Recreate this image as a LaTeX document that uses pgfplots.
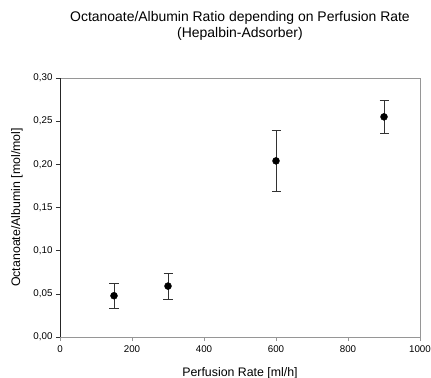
\documentclass[border=0pt]{standalone}
\usepackage{fontspec}
\setmainfont{Liberation Sans}
\usepackage{pgfplots}
\pgfplotsset{compat=1.18}
\definecolor{boxgray}{RGB}{150,150,150}
\definecolor{ebar}{RGB}{50,50,50}
\begin{document}
\begin{tikzpicture}
\path[use as bounding box] (-60bp,-41bp) rectangle (371bp,337bp);
\begin{axis}[
  at={(0,0)}, anchor=south west,
  scale only axis, width=360bp, height=259bp,
  xmin=0, xmax=1000, ymin=0, ymax=0.30,
  xtick={0,200,...,1000}, ytick={0,0.05,...,0.30},
  tick align=outside, tick pos=left,
  major tick length=4bp,
  axis line style={boxgray, line width=0.8pt},
  x tick style={boxgray, line width=0.6pt},
  y tick style={black!80, line width=0.6pt},
  /pgf/number format/assume math mode=true,
  x tick label style={/pgf/number format/1000 sep={}, font=\fontsize{9.8}{11}\selectfont, yshift=-1bp},
  y tick label style={/pgf/number format/.cd, fixed, fixed zerofill, precision=2, use comma, /tikz/.cd, font=\fontsize{9.8}{11}\selectfont},
  scaled y ticks=false,
  xlabel={Perfusion Rate [ml/h]},
  ylabel={Octanoate/Albumin [mol/mol]},
  label style={font=\fontsize{12.4}{14}\selectfont},
  xlabel style={at={(axis description cs:0.5,0)}, anchor=center, yshift=-36bp},
  ylabel style={at={(axis description cs:0,0.5)}, anchor=center, rotate=0, yshift=43bp},
  clip=false,
]
\draw[black!85, line width=0.8pt] (rel axis cs:0,0) -- (rel axis cs:0,1);
\addplot[only marks, mark=*, mark size=3.5bp, black,
  error bars/.cd, y dir=both, y explicit,
  error bar style={ebar, line width=0.8pt},
  error mark options={ebar, line width=0.8pt, mark size=4.5bp, rotate=90}]
  table[x=x, y=y, y error plus=ep, y error minus=em] {
x y ep em
150 0.0478 0.0139 0.0142
300 0.0590 0.0147 0.0154
600 0.2040 0.0350 0.0350
900 0.2550 0.0185 0.0190
};
\node[align=center, font=\fontsize{14}{16}\selectfont] at (rel axis cs:0.5,1) [yshift=52bp] {Octanoate/Albumin Ratio depending on Perfusion Rate\\(Hepalbin-Adsorber)};
\end{axis}
\end{tikzpicture}
\end{document}
